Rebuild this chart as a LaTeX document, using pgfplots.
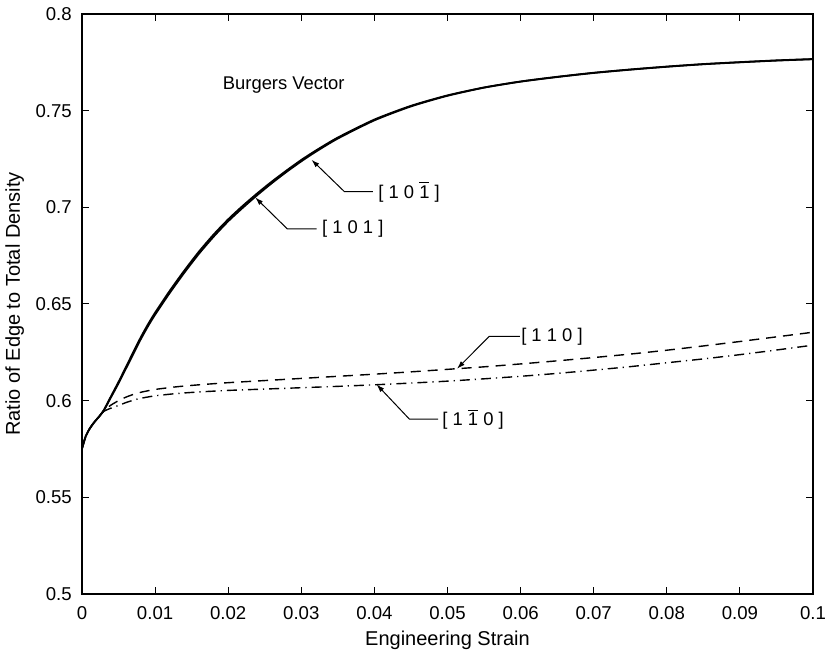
\documentclass[border=0pt]{standalone}
\usepackage{fontspec}
\setmainfont{Liberation Sans}
\usepackage{pgfplots}
\pgfplotsset{compat=1.18}
\usetikzlibrary{arrows.meta}

\newcommand{\bone}{\ensuremath{\overline{\mbox{1}}}}

\begin{document}
\begin{tikzpicture}[font=\fontsize{9.2pt}{11pt}\selectfont]
\begin{axis}[
  scale only axis, width=365.5pt, height=290pt,
  xmin=0, xmax=0.1, ymin=0.5, ymax=0.8,
  xtick={0,0.01,0.02,0.03,0.04,0.05,0.06,0.07,0.08,0.09,0.1},
  ytick={0.5,0.55,0.6,0.65,0.7,0.75,0.8},
  tick align=inside, xtick pos=both, ytick pos=both,
  major tick length=3.5pt,
  scaled ticks=false,
  /pgf/number format/assume math mode=true,
  tick label style={font=\fontsize{9.3pt}{11pt}\selectfont},
  label style={font=\fontsize{10pt}{12pt}\selectfont},
  xticklabel style={/pgf/number format/fixed,/pgf/number format/precision=2, yshift=-2.5pt},
  yticklabel style={/pgf/number format/fixed,/pgf/number format/precision=2, xshift=-1.6pt},
  xlabel={Engineering Strain},
  ylabel={Ratio of Edge to Total Density},
  xlabel style={at={(axis description cs:0.5,-0.080)}, anchor=center},
  ylabel style={at={(axis description cs:-0.092,0.5)}, anchor=center},
  axis line style={line width=0.6pt},
  every tick/.style={black, line width=0.5pt},
]
\coordinate (sw) at (rel axis cs:0,0);
\coordinate (ne) at (rel axis cs:1,1);

% [1 0 1]
\addplot[black, line width=0.9pt, smooth, tension=0.4] coordinates {
(0,0.5752) (0.0005,0.5815) (0.001,0.5852) (0.0015,0.5880) (0.002,0.5903)
(0.0025,0.5925) (0.003,0.5950) (0.004,0.6020) (0.005,0.6090) (0.006,0.6165)
(0.007,0.6240) (0.008,0.6315) (0.009,0.6383) (0.010,0.6445) (0.012,0.6557)
(0.014,0.6662) (0.016,0.6760) (0.018,0.6848) (0.020,0.6928) (0.022,0.6998)
(0.024,0.7064) (0.026,0.7126) (0.028,0.7184) (0.030,0.7238) (0.032,0.7288)
(0.035,0.7356) (0.040,0.7450) (0.045,0.7522) (0.050,0.7577) (0.055,0.7619)
(0.060,0.7650) (0.065,0.7674) (0.070,0.7695) (0.075,0.7712) (0.080,0.7727)
(0.085,0.7740) (0.090,0.7750) (0.095,0.7759) (0.100,0.7766)};

% [1 0 -1]
\addplot[black, line width=0.9pt, smooth, tension=0.4] coordinates {
(0,0.5752) (0.0005,0.5815) (0.001,0.5852) (0.0015,0.5880) (0.002,0.5903)
(0.0025,0.5925) (0.003,0.5952) (0.004,0.6025) (0.005,0.6097) (0.006,0.6173)
(0.007,0.6250) (0.008,0.6325) (0.009,0.6393) (0.010,0.6455) (0.012,0.6568)
(0.014,0.6673) (0.016,0.6771) (0.018,0.6859) (0.020,0.6938) (0.022,0.7008)
(0.024,0.7073) (0.026,0.7134) (0.028,0.7191) (0.030,0.7245) (0.032,0.7294)
(0.035,0.7361) (0.040,0.7454) (0.045,0.7525) (0.050,0.7579) (0.055,0.7620)
(0.060,0.7651) (0.065,0.7675) (0.070,0.7696) (0.075,0.7713) (0.080,0.7728)
(0.085,0.7741) (0.090,0.7751) (0.095,0.7760) (0.100,0.7767)};

% [1 1 0]
\addplot[black, line width=0.7pt, smooth, tension=0.4, dash pattern=on 5pt off 3.5pt] coordinates {
(0,0.5752) (0.0005,0.5815) (0.001,0.5852) (0.0015,0.5880) (0.002,0.5903)
(0.0025,0.5925) (0.003,0.5950) (0.004,0.5978) (0.005,0.6000) (0.006,0.6018)
(0.007,0.6032) (0.008,0.6043) (0.010,0.6058) (0.013,0.6072) (0.016,0.6082)
(0.020,0.6093) (0.025,0.6104) (0.030,0.6115) (0.035,0.6126) (0.040,0.6137)
(0.045,0.6149) (0.050,0.6162) (0.055,0.6175) (0.060,0.6190) (0.065,0.6206)
(0.070,0.6223) (0.075,0.6241) (0.080,0.6261) (0.085,0.6283) (0.090,0.6306)
(0.095,0.6330) (0.100,0.6354)};

% [1 -1 0]
\addplot[black, line width=0.7pt, smooth, tension=0.4, dash pattern=on 5pt off 2.5pt on 0.6pt off 2.5pt] coordinates {
(0,0.5752) (0.0005,0.5815) (0.001,0.5852) (0.0015,0.5880) (0.002,0.5903)
(0.0025,0.5923) (0.003,0.5945) (0.004,0.5962) (0.005,0.5975) (0.006,0.5990)
(0.007,0.6002) (0.008,0.6012) (0.010,0.6025) (0.013,0.6037) (0.016,0.6045)
(0.020,0.6053) (0.025,0.6060) (0.030,0.6067) (0.035,0.6074) (0.040,0.6082)
(0.045,0.6091) (0.050,0.6101) (0.055,0.6113) (0.060,0.6126) (0.065,0.6141)
(0.070,0.6158) (0.075,0.6176) (0.080,0.6196) (0.085,0.6216) (0.090,0.6238)
(0.095,0.6262) (0.100,0.6287)};

% annotations
\node at (axis cs:0.0276,0.7633) {Burgers Vector};

\draw[line width=0.5pt, -{Latex[length=4pt,width=2.6pt]}]
  (axis cs:0.0398,0.7081) -- (axis cs:0.0359,0.7081) -- (axis cs:0.0314,0.7246);
\node[anchor=west, inner sep=2.5pt] at (axis cs:0.0398,0.7081) {[ 1 0 \bone\ ]};

\draw[line width=0.5pt, -{Latex[length=4pt,width=2.6pt]}]
  (axis cs:0.0321,0.6888) -- (axis cs:0.0281,0.6888) -- (axis cs:0.0237,0.7051);
\node[anchor=west, inner sep=2.5pt] at (axis cs:0.0321,0.6888) {[ 1 0 1 ]};

\draw[line width=0.5pt, -{Latex[length=4pt,width=2.6pt]}]
  (axis cs:0.0599,0.6332) -- (axis cs:0.0557,0.6332) -- (axis cs:0.0513,0.6165);
\node[anchor=west, inner sep=0.5pt] at (axis cs:0.0599,0.6332) {[ 1 1 0 ]};

\draw[line width=0.5pt, -{Latex[length=4pt,width=2.6pt]}]
  (axis cs:0.0487,0.5904) -- (axis cs:0.0448,0.5904) -- (axis cs:0.0403,0.6084);
\node[anchor=west, inner sep=2pt] at (axis cs:0.0487,0.5904) {[ 1 \bone\ 0 ]};
\end{axis}
\pgfresetboundingbox
\path[use as bounding box] ([shift={(-41pt,-28.5pt)}]sw) rectangle ([shift={(7.5pt,7pt)}]ne);
\end{tikzpicture}
\end{document}
